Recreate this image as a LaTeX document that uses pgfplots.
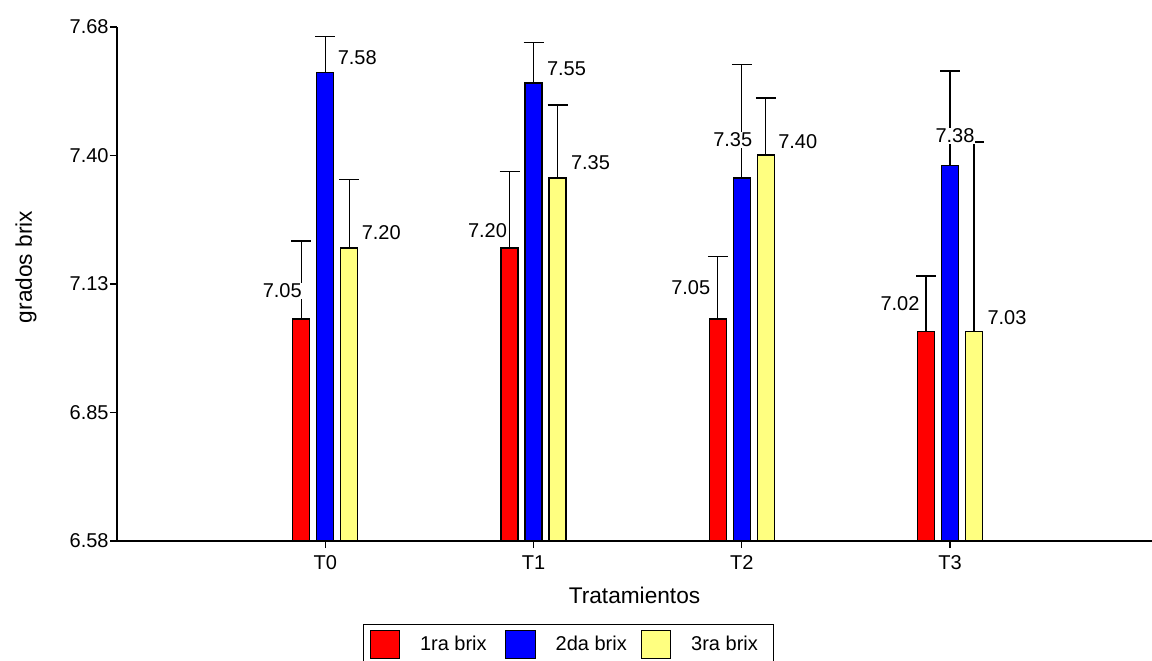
\documentclass[border=0pt]{standalone}
\usepackage{fontspec}
\setmainfont{Liberation Sans}
\usepackage{pgfplots}
\usepackage{pgfplotstable}
\pgfplotsset{compat=1.18}
\definecolor{cred}{RGB}{255,0,0}
\definecolor{cblue}{RGB}{0,0,255}
\definecolor{cyel}{RGB}{255,255,128}

\pgfplotstableread{
x y ep lab dx dy
0 7.055 0.167 7.05 -19 28
1 7.207 0.163 7.20 -22 17
2 7.055 0.133 7.05 -27 31
3 7.029 0.118 7.02 -26 28
}\redt
\pgfplotstableread{
x y ep lab dx dy
0 7.582 0.077 7.58 32 15
1 7.560 0.086 7.55 33 14
2 7.357 0.242 7.35 -9 38
3 7.383 0.203 7.38 5 30
}\bluet
\pgfplotstableread{
x y ep lab dx dy
0 7.207 0.146 7.20 32 15
1 7.357 0.156 7.35 33 15
2 7.406 0.122 7.40 32 13
3 7.029 0.405 7.03 33 14
}\yelt

\begin{document}
\begin{tikzpicture}
\begin{axis}[
  name=ax,
  scale only axis,
  width=776.25pt, height=385.5pt,
  xmin=-1, xmax=3.97, ymin=6.58, ymax=7.68,
  axis x line*=bottom, axis y line*=left,
  axis line style={-, line width=1pt, black},
  ybar=5.25pt, bar width=12.75pt,
  xtick={0,1,2,3}, xticklabels={T0,T1,T2,T3},
  ytick={6.58,6.855,7.13,7.405,7.68},
  yticklabels={6.58,6.85,7.13,7.40,7.68},
  tick align=outside, major tick length=5.25pt,
  tick style={black, line width=1pt},
  ticklabel style={font=\fontsize{15}{18}\selectfont},
  yticklabel style={xshift=2.5pt},
  xticklabel style={yshift=-2pt},
  label style={font=\fontsize{17}{20}\selectfont},
  xlabel style={yshift=-6pt},
  xlabel={Tratamientos}, ylabel={grados brix},
  every axis y label/.style={at={(axis description cs:-0.0879,0.533)}, rotate=90, anchor=center, font=\fontsize{17}{20}\selectfont},
  /pgf/number format/assume math mode=true,
  /pgf/number format/.cd, fixed, fixed zerofill, precision=2, /pgfplots/.cd,
  legend columns=3, reverse legend,
  legend style={at={(axis description cs:0.2377,-0.1615)}, anchor=north west,
    draw=black, line width=1pt, inner xsep=4.5pt, inner ysep=3.75pt,
    font=\fontsize{15}{18}\selectfont,
    nodes={inner sep=0pt},
    /tikz/every odd column/.append style={column sep=15pt},
    /tikz/every even column/.append style={column sep=14pt}},
  every axis plot post/.append style={
    legend image code/.code={\draw[#1, line width=0.75pt] (0pt,-10.5pt) rectangle (22pt,10.5pt);}},
  nodes near coords,
  point meta=explicit,
  visualization depends on={0.75*\thisrow{dx} \as \dx},
  visualization depends on={0.75*\thisrow{dy} \as \dy},
  nodes near coords style={anchor=center, xshift=\dx pt, yshift=\dy pt, fill=white, inner sep=0.5pt, text=black, font=\fontsize{15}{18}\selectfont},
  error bars/y dir=plus, error bars/y explicit,
  error bars/error mark options={rotate=90, mark size=7.5pt, line width=0.9pt, black},
  error bars/error bar style={line width=0.9pt, black},
]
\addplot[fill=cyel, draw=black, line width=0.9pt, bar shift=18pt] table[x=x, y=y, y error plus=ep, meta=lab] {\yelt};
\addlegendentry{3ra brix\kern7pt}
\addplot[fill=cblue, draw=black, line width=0.9pt, bar shift=0pt] table[x=x, y=y, y error plus=ep, meta=lab] {\bluet};
\addlegendentry{2da brix\kern-3.5pt}
\addplot[fill=cred, draw=black, line width=0.9pt, bar shift=-18pt] table[x=x, y=y, y error plus=ep, meta=lab] {\redt};
\addlegendentry{1ra brix}
\end{axis}
\pgfresetboundingbox
\path ([xshift=-87.75pt,yshift=-89.25pt]ax.south west) rectangle ([yshift=20.25pt]ax.north east);
\end{tikzpicture}
\end{document}
